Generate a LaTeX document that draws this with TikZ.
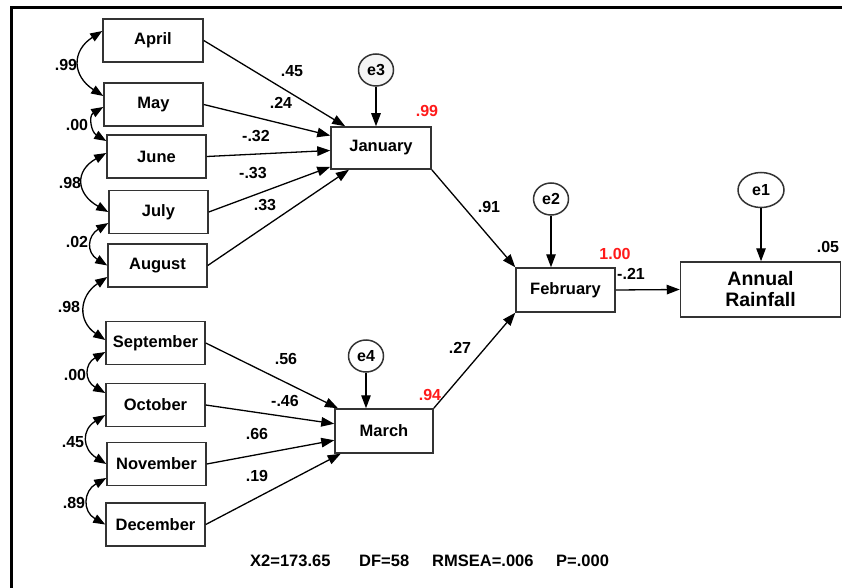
\documentclass[tikz,border=0pt]{standalone}
\usepackage{fontspec}
\setmainfont{Liberation Sans}
\usetikzlibrary{arrows.meta,shapes.geometric}
\definecolor{boxline}{HTML}{333333}
\definecolor{redlbl}{HTML}{FF1A1A}
\begin{document}
\begin{tikzpicture}[x=1pt,y=-1pt,
  box/.style={draw=boxline,line width=1.5pt,minimum width=99pt,minimum height=43pt,inner sep=0pt,fill=white,
    font=\fontsize{16.5}{18}\selectfont\bfseries},
  err/.style={ellipse,draw=boxline,line width=1.5pt,minimum width=35pt,minimum height=32pt,inner sep=0pt,fill=white,
    font=\fontsize{16}{18}\selectfont\bfseries},
  arr/.style={line width=1.3pt,-{Triangle[length=13pt,width=9.5pt]}},
  cov/.style={line width=1.3pt,{Triangle[length=12pt,width=9pt]}-{Triangle[length=12pt,width=9pt]}},
  lbl/.style={font=\fontsize{16}{18}\selectfont\bfseries,inner sep=0pt},
  rlbl/.style={lbl,text=redlbl},
  stat/.style={font=\fontsize{16.5}{18}\selectfont\bfseries,inner sep=0pt,anchor=west}]
\useasboundingbox (0,0) rectangle (842,588);
\fill[white] (0,0) rectangle (842,588);
% frame
\draw[line width=3pt] (842,8) -- (11,8) -- (11,588);

% observed month boxes
\node[box,minimum width=100pt] (April) at (153,40.5) {April};
\node[box] (May) at (153.5,104.5) {May};
\node[box] (June) at (156.5,156.5) {June};
\node[box] (July) at (158.5,212) {July};
\node[box] (August) at (157.5,265.5) {August};
\node[box] (September) at (155.5,343) {September};
\node[box] (October) at (155.5,405) {October};
\node[box] (November) at (156.5,464) {November};
\node[box] (December) at (155.5,524.5) {December};

\node[box,minimum width=100pt,minimum height=42pt] (January) at (381,148) {January};
\node[box,minimum height=44pt] (February) at (565.5,290) {February};
\node[box,minimum width=98pt,minimum height=44pt] (March) at (384,431) {March};
\node[box,minimum width=160pt,minimum height=55pt,align=center,
  font=\fontsize{19.5}{21}\selectfont\bfseries] (Annual) at (760.5,289.5) {Annual\\Rainfall};

% error terms
\node[err,fill=black!4] (e3) at (376,70) {e3};
\node[err] (e2) at (551,199) {e2};
\node[err] (e4) at (366,356) {e4};
\node[err,minimum width=46pt,minimum height=35pt] (e1) at (761,190) {e1};

% paths into January
\draw[arr] (April.east) -- (January);
\draw[arr] (May.east) -- (January);
\draw[arr] (June.east) -- (January);
\draw[arr] (July.east) -- (January);
\draw[arr] (August.east) -- (January);
% paths into March
\draw[arr] (September.east) -- (March);
\draw[arr] (October.east) -- (March);
\draw[arr] (November.east) -- (March);
\draw[arr] (December.east) -- (March);
% structural paths
\draw[arr] (January.south east) -- (February.north west);
\draw[arr] (March.north east) -- (February.south west);
\draw[arr] (February.east) -- (Annual.west);
% error paths
\draw[arr] (e3) -- (e3 |- January.north);
\draw[arr] (e2) -- (e2 |- February.north);
\draw[arr] (e4) -- (e4 |- March.north);
\draw[arr] (e1) -- (e1 |- Annual.north);

% covariances
\draw[cov] ([yshift=9.5pt]April.west) .. controls +(-31,20) and +(-31,-20) .. ([yshift=8.5pt]May.west);
\draw[cov] ([yshift=-2.5pt]May.west) .. controls +(-15,9) and +(-15,-9) .. ([yshift=15.5pt]June.west);
\draw[cov] ([yshift=3.5pt]June.west) .. controls +(-32,18) and +(-32,-18) .. (July.west);
\draw[cov] ([yshift=-11pt]July.west) .. controls +(-21,13) and +(-21,-13) .. (August.west);
\draw[cov] ([yshift=-11.5pt]August.west) .. controls +(-28,19) and +(-28,-19) .. ([yshift=3pt]September.west);
\draw[cov] ([yshift=-9pt]September.west) .. controls +(-21,12) and +(-21,-12) .. ([yshift=12pt]October.west);
\draw[cov] ([yshift=-10pt]October.west) .. controls +(-24,15) and +(-24,-15) .. (November.west);
\draw[cov] ([yshift=-14pt]November.west) .. controls +(-23,13) and +(-23,-13) .. (December.west);

% covariance labels
\node[lbl] (c1) at (66,65) {.99};
\node[lbl] (c2) at (77,125) {.00};
\node[lbl] (c3) at (70,183) {.98};
\node[lbl] (c4) at (77,242) {.02};
\node[lbl] (c5) at (69,307) {.98};
\node[lbl] (c6) at (75,375) {.00};
\node[lbl] (c7) at (73,442) {.45};
\node[lbl] (c8) at (74,503) {.89};

% path labels
\node[lbl] (l1) at (292,71) {.45};
\node[lbl] (l2) at (281,103) {.24};
\node[lbl] (l3) at (256,136) {-.32};
\node[lbl] (l4) at (253,173) {-.33};
\node[lbl] (l5) at (265,205) {.33};
\node[lbl] (l6) at (286,359) {.56};
\node[lbl] (l7) at (285,401) {-.46};
\node[lbl] (l8) at (257,434) {.66};
\node[lbl] (l9) at (257,476) {.19};
\node[lbl] (l10) at (489,207) {.91};
\node[lbl] (l11) at (460,348) {.27};
\node[lbl] (l12) at (631,274) {-.21};
\node[lbl] (l13) at (828,247) {.05};
% squared multiple correlations
\node[rlbl] (r1) at (427,111) {.99};
\node[rlbl] (r2) at (615,254) {1.00};
\node[rlbl] (r3) at (430,395) {.94};

% fit statistics
\node[stat] (s1) at (250,561) {X2=173.65};
\node[stat] (s2) at (359,561) {DF=58};
\node[stat] (s3) at (432,561) {RMSEA=.006};
\node[stat] (s4) at (556,561) {P=.000};
\end{tikzpicture}
\end{document}
